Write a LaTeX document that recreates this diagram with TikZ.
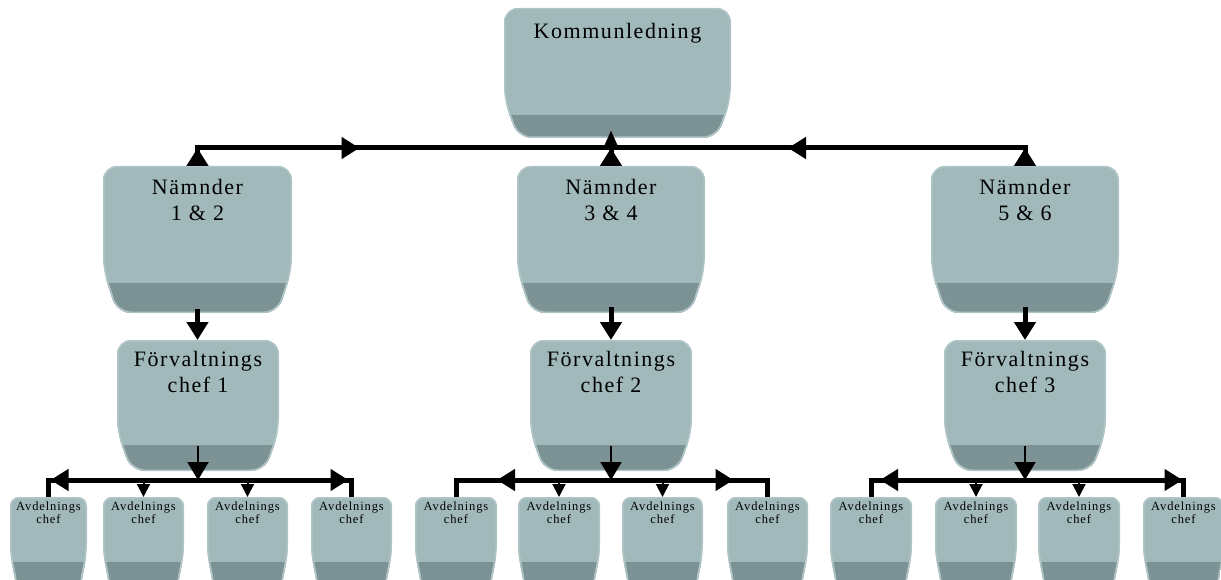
\documentclass[tikz,border=0pt]{standalone}
\usepackage{fontspec}
\setmainfont{Liberation Serif}
\newfontfamily\bigfont[LetterSpace=7]{Liberation Serif}
\newfontfamily\smallfont[LetterSpace=7]{Liberation Serif}
\usetikzlibrary{arrows.meta,calc,fit}
\definecolor{face}{RGB}{161,185,186}
\definecolor{band}{RGB}{125,146,148}
\definecolor{rim}{RGB}{176,197,198}
\tikzset{
  conn/.style={line width=5pt, draw=black},
  fconn/.style={line width=2pt, draw=black},
  tipB/.style={-{Triangle[length=18pt,width=21pt]}},
  tipU/.style={-{Triangle[length=18pt,width=14pt]}},
  tipS/.style={-{Triangle[length=13pt,width=13pt]}},
  area/.style={inner sep=0pt, outer sep=0pt, draw=none},
  bigtxt/.style={anchor=north, inner sep=0pt, align=center, font=\bigfont\fontsize{22}{26}\selectfont},
  smalltxt/.style={anchor=north, inner sep=0pt, align=center, font=\smallfont\fontsize{12.5}{13}\selectfont},
}
% name, L, T, R, B, slant start, band top, inset, radius
\newcommand\kbox[9]{%
  \node[area, fit={(#2,#3) (#4,#5)}] (#1) {};
  \begin{scope}
    \path[clip, rounded corners=#9pt] (#2,#6) -- (#2,#3) -- (#4,#3) -- (#4,#6) -- ({#4-#8},#5) -- ({#2+#8},#5) -- cycle;
    \fill[face] (#2,#3) rectangle (#4,#5);
    \fill[band] (#2,#7) rectangle (#4,#5);
    \draw[rim, line width=3pt, rounded corners=#9pt] (#2,#6) -- (#2,#3) -- (#4,#3) -- (#4,#6) -- ({#4-#8},#5) -- ({#2+#8},#5) -- cycle;
  \end{scope}
}
\begin{document}
\begin{tikzpicture}[x=1pt,y=-1pt]
\useasboundingbox (0,0) rectangle (1221,580);
\clip (0,0) rectangle (1221,580);

% boxes
\kbox{K}{504}{8}{731}{138}{100}{115}{14}{14}
\kbox{N1}{103}{166}{292}{313}{270}{283}{14}{14}
\kbox{N2}{517}{166}{705}{313}{270}{283}{14}{14}
\kbox{N3}{931}{166}{1119}{313}{270}{283}{14}{14}
\kbox{F1}{117}{340}{279}{471}{432}{445}{14}{14}
\kbox{F2}{530}{340}{692}{471}{432}{445}{14}{14}
\kbox{F3}{944}{340}{1106}{471}{432}{445}{14}{14}
\kbox{A11}{10}{497}{87}{605}{553}{562}{10}{9}
\kbox{A12}{103}{497}{184}{605}{553}{562}{10}{9}
\kbox{A13}{207}{497}{288}{605}{553}{562}{10}{9}
\kbox{A14}{311}{497}{392}{605}{553}{562}{10}{9}
\kbox{A21}{415}{497}{497}{605}{553}{562}{10}{9}
\kbox{A22}{518}{497}{600}{605}{553}{562}{10}{9}
\kbox{A23}{622}{497}{703}{605}{553}{562}{10}{9}
\kbox{A24}{727}{497}{808}{605}{553}{562}{10}{9}
\kbox{A31}{830}{497}{912}{605}{553}{562}{10}{9}
\kbox{A32}{935}{497}{1017}{605}{553}{562}{10}{9}
\kbox{A33}{1038}{497}{1120}{605}{553}{562}{10}{9}
\kbox{A34}{1143}{497}{1224}{605}{553}{562}{10}{9}

% texts
\node[bigtxt] (K-t) at ([yshift=-15pt]K.north) {Kommunledning};
\node[bigtxt] (N1-t) at ([yshift=-13pt]N1.north) {Nämnder\\1 \& 2};
\node[bigtxt] (N2-t) at ([yshift=-13pt]N2.north) {Nämnder\\3 \& 4};
\node[bigtxt] (N3-t) at ([yshift=-13pt]N3.north) {Nämnder\\5 \& 6};
\node[bigtxt] (F1-t) at ([yshift=-11pt]F1.north) {Förvaltnings\\chef 1};
\node[bigtxt] (F2-t) at ([yshift=-11pt]F2.north) {Förvaltnings\\chef 2};
\node[bigtxt] (F3-t) at ([yshift=-11pt]F3.north) {Förvaltnings\\chef 3};
\foreach \g in {1,2,3}{
  \foreach \i in {1,2,3,4}{
    \node[smalltxt] (A\g\i-t) at ([yshift=-5pt]A\g\i.north) {Avdelnings\\chef};
  }
}

% bus coordinates
\coordinate (busTop) at (0,148);
\coordinate (busBot) at (0,480);

% top level
\draw[conn] (N1.north) -- (N1.north |- busTop) -- (N3.north |- busTop) -- (N3.north);
\draw[conn] (N2.north) -- (N2.north |- K.south);
\draw[conn, tipB] (N1.north) -- ++(0,-18);
\draw[conn, tipB] (N3.north) -- ++(0,-18);
\draw[conn, tipB] (N2.north) -- ++(0,-18);
\draw[conn, tipU] (N2.north |- busTop) -- ++(0,-18);
\draw[conn, tipB] ($(N1.north |- busTop)+(142,0)$) -- ($(N1.north |- busTop)+(162,0)$);
\draw[conn, tipB] ($(N3.north |- busTop)+(-217,0)$) -- ($(N3.north |- busTop)+(-237,0)$);

% Nämnder -> Förvaltningschef
\draw[conn, tipB] ([yshift=4pt]N1.south) -- (N1.south |- F1.north);
\draw[conn, tipB] ([yshift=6pt]N2.south) -- (N2.south |- F2.north);
\draw[conn, tipB] ([yshift=6pt]N3.south) -- (N3.south |- F3.north);

% Förvaltningschef -> Avdelningschefer
\draw[fconn, tipB] ([yshift=25pt]F1.south) -- (F1.south |- busBot);
\draw[fconn, tipB] ([yshift=25pt]F2.south) -- (F2.south |- busBot);
\draw[fconn, tipB] ([yshift=25pt]F3.south) -- (F3.south |- busBot);

\foreach \g in {1,2,3}{
  \draw[conn] (A\g1.north) -- (A\g1.north |- busBot) -- (A\g4.north |- busBot) -- (A\g4.north);
  \draw[fconn, tipS] (A\g2.north |- busBot) -- (A\g2.north);
  \draw[fconn, tipS] (A\g3.north |- busBot) -- (A\g3.north);
}
\draw[conn, tipB] ($(A11.north |- busBot)+(22,0)$) -- ($(A11.north |- busBot)+(2,0)$);
\draw[conn, tipB] ($(A21.north |- busBot)+(61,0)$) -- ($(A21.north |- busBot)+(41,0)$);
\draw[conn, tipB] ($(A31.north |- busBot)+(29,0)$) -- ($(A31.north |- busBot)+(9,0)$);
\draw[conn, tipB] ($(A14.north |- busBot)+(-23,0)$) -- ($(A14.north |- busBot)+(-3,0)$);
\draw[conn, tipB] ($(A24.north |- busBot)+(-54,0)$) -- ($(A24.north |- busBot)+(-34,0)$);
\draw[conn, tipB] ($(A34.north |- busBot)+(-21,0)$) -- ($(A34.north |- busBot)+(-1,0)$);
\end{tikzpicture}
\end{document}
